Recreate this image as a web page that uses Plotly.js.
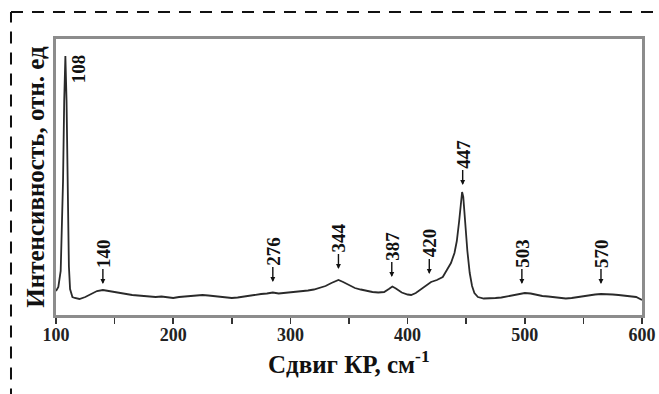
<!DOCTYPE html>
<html>
<head>
<meta charset="utf-8">
<script src="https://cdn.plot.ly/plotly-3.0.1.min.js"></script>
<style>html,body{margin:0;padding:0;background:#fff;}#chart{width:659px;height:394px;}</style>
</head>
<body>
<div id="chart"></div>
<script>
// Raman shift (cm-1) and intensity (arbitrary units)
const shift = [100,102,104,106,107,108,109,110,111,112,114,116,120,125,130,135,140,145,150,155,160,165,170,175,180,185,190,195,200,205,210,215,220,225,230,235,240,245,250,255,260,265,270,275,280,285,290,295,300,305,310,315,320,325,330,335,341,345,350,355,360,365,370,375,380,384,387,390,395,400,403,407,412,416,420,425,430,434,437,440,442,444,445.5,446.5,447.5,449,451,453,455,457,460,465,470,475,480,485,490,495,500,505,510,515,520,525,530,535,540,545,550,555,560,565,570,575,580,585,590,595,600];
const intensity = [24,28,44,134,214,259,214,114,49,26,18,17,16,18,21,24,25,24,23,21.5,21,20,19.5,19,18.5,18,18.5,17.5,17,18,18.5,19,19.5,20,19.5,19,18.5,17.5,17,17.5,18.5,19,20,21,21.5,22.5,21.5,22,22.5,23,23.5,24.5,25.5,27,29,32,35,33,30,27,25.5,24,23,22.5,23,26,28.5,26.5,22.5,20.5,20,22,26,30,33,35,38,46,52,62,74,94,114,123,118,94,64,42,29,22,18,16.5,16.5,17,17.5,18.5,20,21,22,21.5,20,19,18.5,18,17,16.5,17,18,19,20,20.5,21,21,20.5,20,19.5,19,18,15];

// Peak labels
const peakLabels = ['140','276','344','387','420','447','503','570'];
const peakX = [140,285,341,386.5,418.5,447,497.5,565];
const peakTipY = [31,33,46,38,41,130,31,31];
const mainPeakLabel = '108';
const mainPeakX = 119;
const mainPeakY = 246;

// Axis ticks and titles
const majorTicks = [100,200,300,400,500,600];
const majorText = ['100','200','300','400','500','600'];
const minorTicks = [150,250,350,450,550];
const xTitle = 'Сдвиг КР, см<sup>-1</sup>';
const yTitle = 'Интенсивность, отн. ед';

const serif = 'Liberation Serif, Times New Roman, serif';

const annotations = peakLabels.map((t, i) => ({
  x: peakX[i], y: peakTipY[i], xref: 'x', yref: 'y',
  text: t, textangle: -90,
  showarrow: true, arrowhead: 2, arrowsize: 0.7, arrowwidth: 1.4, arrowcolor: '#111',
  ax: 0, ay: -31, standoff: 0,
  font: {family: serif, size: 19, color: '#111', weight: 'bold'}
}));
annotations.push({
  x: mainPeakX, y: mainPeakY, xref: 'x', yref: 'y',
  text: mainPeakLabel, textangle: -90, showarrow: false,
  font: {family: serif, size: 19, color: '#111', weight: 'bold'}
});
annotations.push({
  x: 0.5, y: -0.17, xref: 'paper', yref: 'paper', xanchor: 'center', yanchor: 'middle',
  text: xTitle, showarrow: false,
  font: {family: serif, size: 25, color: '#111', weight: 'bold'}
});

const trace = {
  x: shift, y: intensity, type: 'scatter', mode: 'lines',
  line: {color: '#2a2a2a', width: 1.8},
  hoverinfo: 'skip'
};

const layout = {
  width: 659, height: 394,
  margin: {l: 56, r: 17, t: 39, b: 79},
  paper_bgcolor: '#fff', plot_bgcolor: '#fff',
  showlegend: false,
  xaxis: {
    range: [100, 600], tickmode: 'array', tickvals: majorTicks, ticktext: majorText,
    ticks: 'outside', ticklen: 6, tickwidth: 1.5, tickcolor: '#333',
    ticklabelstandoff: -5,
    minor: {tickmode: 'array', tickvals: minorTicks, ticks: 'outside', ticklen: 6, tickwidth: 1.5, tickcolor: '#333', showgrid: false},
    showgrid: false, zeroline: false,
    showline: true, mirror: true, linecolor: '#8c8c8c', linewidth: 3,
    tickfont: {family: serif, size: 18, color: '#222', weight: 'bold'},
    automargin: false
  },
  yaxis: {
    range: [0, 276], showticklabels: false, ticks: '',
    showgrid: false, zeroline: false,
    showline: true, mirror: true, linecolor: '#8c8c8c', linewidth: 3,
    title: {text: yTitle, standoff: 2,
            font: {family: serif, size: 25, color: '#111', weight: 'bold'}},
    automargin: false
  },
  annotations: annotations,
  shapes: [
    {type: 'line', xref: 'paper', yref: 'paper', x0: -0.0768, x1: -0.0768, y0: -0.31, y1: 1.0978,
     line: {color: '#111', width: 2, dash: '12px,9px'}},
    {type: 'line', xref: 'paper', yref: 'paper', x0: -0.0768, x1: 1.06, y0: 1.0978, y1: 1.0978,
     line: {color: '#111', width: 2, dash: '12px,9px'}}
  ]
};

Plotly.newPlot('chart', [trace], layout, {staticPlot: true, displayModeBar: false});
</script>
</body>
</html>
